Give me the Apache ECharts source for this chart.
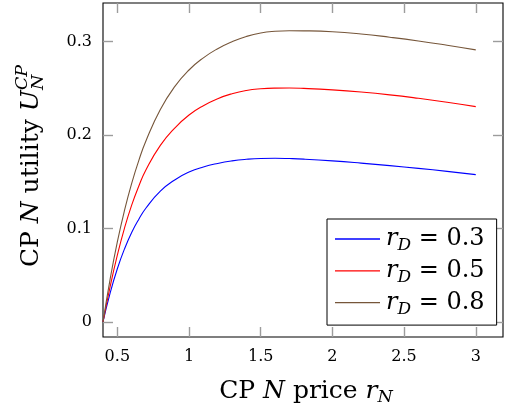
<!DOCTYPE html>
<html>
<head>
<meta charset="utf-8">
<script src="https://cdn.jsdelivr.net/npm/echarts@6/dist/echarts.min.js"></script>
<style>html,body{margin:0;padding:0;background:#fff;}#c{width:505px;height:411px;}</style>
</head>
<body>
<div id="c"></div>
<script>
// ---- data ----
var priceRN  = [0.4, 0.45, 0.5, 0.55, 0.6, 0.65, 0.7, 0.8, 0.9, 1.0, 1.1, 1.2, 1.3, 1.4, 1.5, 1.6, 1.7, 1.8, 2.0, 2.2, 2.4, 2.6, 2.8, 3.0];
var utilRD03 = [0, 0.0312, 0.057, 0.0782, 0.0958, 0.110, 0.122, 0.140, 0.152, 0.1604, 0.1659, 0.1697, 0.1724, 0.1741, 0.1750, 0.1752, 0.1749, 0.1743, 0.1724, 0.1700, 0.1673, 0.1644, 0.1612, 0.1577];
var utilRD05 = [0, 0.038, 0.0715, 0.1005, 0.125, 0.1455, 0.163, 0.189, 0.2075, 0.2215, 0.2315, 0.2390, 0.2443, 0.2478, 0.2496, 0.2503, 0.2504, 0.2500, 0.2484, 0.2461, 0.2431, 0.2394, 0.2352, 0.2305];
var utilRD08 = [0, 0.0462, 0.0857, 0.1194, 0.1483, 0.173, 0.194, 0.2274, 0.2519, 0.2697, 0.2827, 0.2925, 0.3000, 0.3056, 0.3093, 0.3111, 0.3117, 0.3116, 0.3107, 0.3083, 0.3048, 0.3008, 0.2962, 0.2912];
var rdValues = ['0.3', '0.5', '0.8'];
var xTicks = [0.5, 1, 1.5, 2, 2.5, 3];
var yTicks = [0, 0.1, 0.2, 0.3];

var FONT = '"DejaVu Serif"';
var cv = document.createElement('canvas').getContext('2d');
function tw(t, size, italic) { cv.font = (italic ? 'italic ' : '') + size + 'px ' + FONT; return cv.measureText(t).width; }
function txt(t, x, y, size, italic) {
  return { type: 'text', x: x, y: y, silent: true,
    style: { text: t, fontSize: size, fontFamily: 'DejaVu Serif', fontStyle: italic ? 'italic' : 'normal', fill: '#000', align: 'left', verticalAlign: 'middle' } };
}
function buildLabel(segs) {
  var x = 0, kids = [];
  segs.forEach(function (s) {
    if (s.stack) {
      var w = 0;
      s.stack.forEach(function (p) { kids.push(txt(p.t, x, p.dy, p.s, p.i)); w = Math.max(w, tw(p.t, p.s, p.i)); });
      x += w;
    } else {
      kids.push(txt(s.t, x, s.dy || 0, s.s, s.i));
      x += tw(s.t, s.s, s.i);
    }
  });
  kids.forEach(function (k) { k.x -= x / 2; });
  return kids;
}
var T = 25, S = 17.5;
var xTitle = buildLabel([{ t: 'CP ', s: T }, { t: 'N', s: T, i: true }, { t: ' price ', s: T }, { t: 'r', s: T, i: true }, { t: 'N', s: S, i: true, dy: 6 }]);
var yTitle = buildLabel([{ t: 'CP ', s: T }, { t: 'N', s: T, i: true }, { t: ' utility ', s: T }, { t: 'U', s: T, i: true },
  { stack: [{ t: 'CP', s: S, i: true, dy: -9 }, { t: 'N', s: S, i: true, dy: 7 }] }]);

var XMIN = 0.4, XMAX = 3.19, YMIN = -0.0161, YMAX = 0.3414;
function tickStyle() { return { show: true, inside: true, length: 10, lineStyle: { color: '#9c9c9c', width: 1.4 } }; }
function mkX(pos, labels) {
  var t = tickStyle(); t.customValues = xTicks;
  return { type: 'value', position: pos, min: XMIN, max: XMAX, splitLine: { show: false }, axisLine: { show: false, onZero: false },
    axisTick: t,
    axisLabel: { show: labels, customValues: xTicks, margin: 12, fontFamily: 'DejaVu Serif', fontSize: 16, color: '#000' } };
}
function mkY(pos, labels) {
  var t = tickStyle(); t.customValues = yTicks;
  return { type: 'value', position: pos, min: YMIN, max: YMAX, splitLine: { show: false }, axisLine: { show: false, onZero: false },
    axisTick: t,
    axisLabel: { show: labels, customValues: yTicks, margin: 11, fontFamily: 'DejaVu Serif', fontSize: 16, color: '#000' } };
}
function mkSeries(name, ys, color) {
  return { type: 'line', name: name, xAxisIndex: 0, yAxisIndex: 0, data: priceRN.map(function (x, i) { return [x, ys[i]]; }),
    symbol: 'none', smooth: 0.5, lineStyle: { color: color, width: 1.1 }, itemStyle: { color: color }, z: 3 };
}
var chart = echarts.init(document.getElementById('c'));
chart.setOption({
  animation: false,
  grid: { left: 103, top: 3, width: 400, height: 334, show: true, borderColor: '#000', borderWidth: 1.1, backgroundColor: 'transparent' },
  xAxis: [mkX('bottom', true), mkX('top', false)],
  yAxis: [mkY('left', true), mkY('right', false)],
  legend: {
    orient: 'vertical', left: 327, top: 219, padding: [8, 12, 7, 8], itemGap: 4.3, itemWidth: 45, itemHeight: 1.3, icon: 'rect',
    backgroundColor: '#fff', borderColor: '#000', borderWidth: 1, borderRadius: 0,
    data: ['a', 'b', 'c'],
    formatter: function (name) { var v = rdValues[['a', 'b', 'c'].indexOf(name)]; return '{i|r}{s|D}{n| = ' + v + '}'; },
    textStyle: { color: '#000', fontFamily: 'DejaVu Serif', fontSize: 24, padding: [0, 0, 0, 1],
      rich: { i: { fontStyle: 'italic', fontSize: 24, fontFamily: 'DejaVu Serif', color: '#000' },
              s: { fontStyle: 'italic', fontSize: 17, fontFamily: 'DejaVu Serif', color: '#000', padding: [14, 0, 0, 0] },
              n: { fontSize: 24, fontFamily: 'DejaVu Serif', color: '#000' } } }
  },
  series: [mkSeries('a', utilRD03, '#0000ff'), mkSeries('b', utilRD05, '#ff0000'), mkSeries('c', utilRD08, '#76563a')],
  graphic: [
    { type: 'group', x: 306, y: 391, children: xTitle },
    { type: 'group', x: 31, y: 166, rotation: Math.PI / 2, children: yTitle }
  ]
});
</script>
</body>
</html>
